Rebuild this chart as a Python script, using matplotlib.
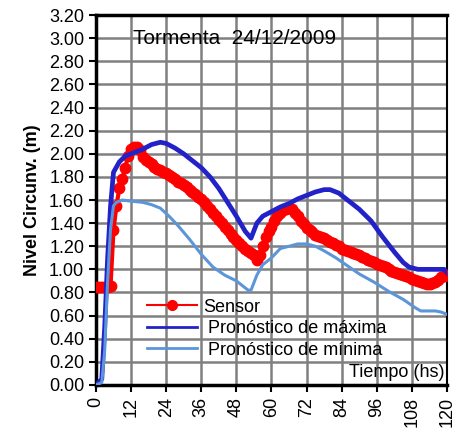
import numpy as np
import matplotlib
matplotlib.use("Agg")
import matplotlib.pyplot as plt

plt.rcParams['font.family'] = ['Liberation Sans', 'DejaVu Sans']

# Sensor (lectura horaria)
t_sensor = list(range(0, 121))
nivel_sensor = [
    0.85, 0.85, 0.85, 0.85, 0.85, 0.86, 1.34, 1.55, 1.70, 1.78,
    1.88, 1.98, 2.04, 2.06, 2.06, 2.03, 1.97, 1.95, 1.93, 1.91,
    1.89, 1.87, 1.86, 1.84, 1.83, 1.82, 1.80, 1.78, 1.76, 1.75,
    1.73, 1.71, 1.69, 1.67, 1.65, 1.63, 1.61, 1.58, 1.55, 1.52,
    1.49, 1.46, 1.43, 1.40, 1.37, 1.34, 1.31, 1.28, 1.25, 1.23,
    1.20, 1.18, 1.16, 1.14, 1.12, 1.08, 1.12, 1.20, 1.28, 1.33,
    1.37, 1.42, 1.46, 1.49, 1.51, 1.52, 1.53, 1.52, 1.49, 1.46,
    1.42, 1.39, 1.36, 1.34, 1.32, 1.30, 1.29, 1.28, 1.27, 1.25,
    1.24, 1.23, 1.21, 1.20, 1.18, 1.17, 1.16, 1.15, 1.14, 1.13,
    1.12, 1.11, 1.10, 1.08, 1.07, 1.06, 1.05, 1.04, 1.03, 1.02,
    1.00, 0.99, 0.98, 0.97, 0.96, 0.95, 0.94, 0.93, 0.92, 0.91,
    0.90, 0.89, 0.88, 0.87, 0.87, 0.88, 0.89, 0.91, 0.93, 0.94,
    0.95]

# Pronóstico de máxima
t_max = [0, 2, 3, 4, 5, 6, 8, 10, 13, 16, 19, 22, 24, 27, 30, 33, 36, 39, 42,
         45, 48, 51, 53, 55, 57, 60, 63, 66, 69, 72, 75, 78, 80, 83, 86, 90,
         94, 98, 102, 105, 107, 110, 115, 119, 120]
nivel_max = [0.00, 0.05, 0.50, 1.10, 1.55, 1.84, 1.93, 1.98, 2.01, 2.04, 2.08,
             2.10, 2.09, 2.05, 2.00, 1.94, 1.88, 1.80, 1.70, 1.58, 1.46, 1.33,
             1.27, 1.40, 1.46, 1.50, 1.54, 1.57, 1.61, 1.64, 1.67, 1.69, 1.69,
             1.66, 1.60, 1.52, 1.42, 1.28, 1.15, 1.06, 1.02, 1.00, 1.00, 1.00,
             0.97]

# Pronóstico de mínima
t_min = [0, 2, 3, 4, 5, 6, 7, 9, 12, 16, 19, 22, 25, 28, 32, 36, 40, 44, 48,
         52, 53, 55, 57, 60, 63, 66, 69, 72, 75, 78, 82, 86, 90, 95, 100, 105,
         109, 111, 116, 118, 120]
nivel_min = [0.00, 0.02, 0.30, 0.90, 1.35, 1.55, 1.58, 1.60, 1.59, 1.58, 1.56,
             1.53, 1.46, 1.38, 1.26, 1.13, 1.02, 0.95, 0.90, 0.82, 0.82, 0.95,
             1.04, 1.10, 1.18, 1.20, 1.22, 1.22, 1.20, 1.16, 1.10, 1.03, 0.96,
             0.89, 0.81, 0.74, 0.67, 0.64, 0.64, 0.63, 0.61]

fig = plt.figure(figsize=(4.59, 4.46), dpi=100)
ax = fig.add_axes([0.209, 0.137, 0.765, 0.829])

ax.plot(t_sensor, nivel_sensor, color='#ff0000', lw=3, marker='o', ms=7.5,
        zorder=3)
ax.plot(t_max, nivel_max, color='#2222c8', lw=3.4, zorder=4)
ax.plot(t_min, nivel_min, color='#5b96da', lw=2.2, zorder=4)

# entradas de leyenda (líneas más finas como en el original)
ax.plot([], [], color='#ff0000', lw=1.5, marker='o', ms=7, label='Sensor')
ax.plot([], [], color='#2222c8', lw=2, label=' Pronóstico de máxima')
ax.plot([], [], color='#5b96da', lw=2, label=' Pronóstico de mínima')

ax.set_xlim(0, 120)
ax.set_ylim(0, 3.2)
ax.set_xticks(np.arange(0, 121, 12))
ax.set_yticks(np.arange(0, 3.21, 0.2))
ax.set_yticklabels([f"{v:.2f}" for v in np.arange(0, 3.21, 0.2)])
ax.tick_params(axis='x', labelrotation=90, labelsize=13, length=5, width=1.5)
ax.tick_params(axis='y', labelsize=13, length=5, width=1.5)
ax.grid(True, color='#808080', lw=1.8)
ax.set_axisbelow(True)
for s in ['left', 'bottom', 'top']:
    ax.spines[s].set_linewidth(2.5)
ax.spines['right'].set_linewidth(1.5)

ax.set_ylabel('Nivel Circunv. (m)', fontsize=13, fontweight='bold', labelpad=6)
ax.text(47.5, 3.0, 'Tormenta  24/12/2009', fontsize=15, ha='center', va='center')
ax.text(119, 0.11, 'Tiempo (hs)', fontsize=13, ha='right', va='center')

leg = ax.legend(loc='lower left', bbox_to_anchor=(0.145, 0.071), frameon=False,
                fontsize=13, handlelength=2.8, labelspacing=0.25,
                borderaxespad=0, handletextpad=0.3, borderpad=0)

fig.savefig('out.png', dpi=100)
